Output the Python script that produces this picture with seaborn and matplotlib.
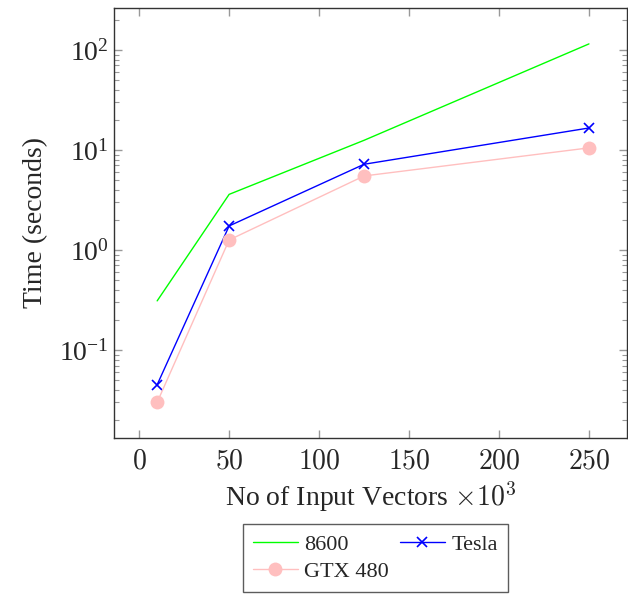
import pandas as pd
import matplotlib
matplotlib.use("Agg")
import matplotlib.pyplot as plt
import matplotlib.ticker as mticker
import seaborn as sns

# data
vectors = [10, 50, 125, 250]
t_8600 = [0.31, 3.6, 12.5, 115]
t_tesla = [0.045, 1.74, 7.2, 16.6]
t_gtx480 = [0.030, 1.26, 5.5, 10.5]

sns.set_theme(style="ticks")
plt.rcParams["font.family"] = ["Liberation Serif", "DejaVu Serif"]
plt.rcParams["mathtext.fontset"] = "cm"

fig = plt.figure(figsize=(6.28, 5.95), dpi=100)
ax = fig.add_axes([0.1815, 0.2639, 0.8165, 0.7227])

sns.lineplot(x=vectors, y=t_8600, ax=ax, color="#00ff00", lw=1.0, label="8600")
sns.lineplot(x=vectors, y=t_tesla, ax=ax, color="#0000ff", lw=1.0, marker="x",
             markersize=7, markeredgewidth=1.2, markeredgecolor="#0000ff",
             label="Tesla")
sns.lineplot(x=vectors, y=t_gtx480, ax=ax, color="#ffbfbf", lw=1.0, marker="o",
             markersize=10, markeredgewidth=0, label="GTX 480")

ax.set_yscale("log")
ax.set_xlim(-14, 271)
ax.set_ylim(0.0132, 263)
ax.set_xticks([0, 50, 100, 150, 200, 250])
ax.xaxis.set_major_formatter(mticker.FuncFormatter(lambda v, p: f"${v:g}$"))
ax.yaxis.set_major_locator(mticker.LogLocator(base=10, numticks=10))
ax.yaxis.set_minor_locator(mticker.LogLocator(base=10, subs=range(2, 10), numticks=20))
ax.yaxis.set_major_formatter(mticker.LogFormatterMathtext())

ax.tick_params(which="both", direction="in", top=True, right=True,
               color="#999999", labelsize=20)
ax.tick_params(which="major", length=6, width=1.0)
ax.tick_params(which="minor", length=3.5, width=0.8)
ax.tick_params(axis="x", pad=8)
for s in ax.spines.values():
    s.set_color("#333333")
    s.set_linewidth(1.0)

ax.set_xlabel(r"No of Input Vectors $\times 10^3$", fontsize=20, labelpad=4)
ax.set_ylabel("Time (seconds)", fontsize=20, labelpad=8)

# row-major order in a 2-column legend
h, l = ax.get_legend_handles_labels()
order = [0, 2, 1]
leg = ax.legend([h[i] for i in order], [l[i] for i in order],
                loc="upper center", bbox_to_anchor=(0.51, -0.2), ncol=2,
                fontsize=16, frameon=True, fancybox=False, edgecolor="#333333",
                handlelength=2.0, handletextpad=0.3, columnspacing=0.5,
                borderpad=0.45, labelspacing=0.3, borderaxespad=0)
leg.get_frame().set_linewidth(1.0)

fig.savefig("out.png", dpi=100)
